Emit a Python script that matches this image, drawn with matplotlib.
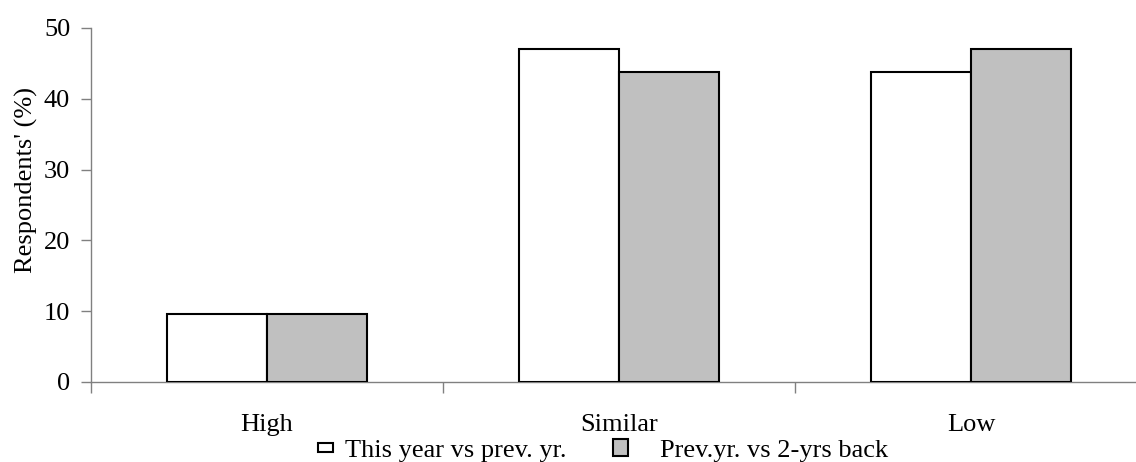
import matplotlib
matplotlib.use("Agg")
import matplotlib.pyplot as plt
import numpy as np

categories = ["High", "Similar", "Low"]
series_names = ["This year vs prev. yr.", "Prev.yr. vs 2-yrs back"]
this_year = [9.6, 47.0, 43.8]
prev_year = [9.6, 43.8, 47.0]
yticks = [0, 10, 20, 30, 40, 50]

plt.rcParams['font.family'] = ['Liberation Serif', 'DejaVu Serif']
FS = 19

fig = plt.figure(figsize=(11.36, 4.62), dpi=100)
W, H = 1136, 462
ax = fig.add_axes([91 / W, 1 - 382 / H, 1056 / W, 354 / H])

x = np.arange(len(categories))
bw = 0.284
b1 = ax.bar(x - bw / 2, this_year, bw, color="white", edgecolor="black",
            linewidth=1.5, label=series_names[0], zorder=3)
b2 = ax.bar(x + bw / 2, prev_year, bw, color="#C0C0C0", edgecolor="black",
            linewidth=1.5, label=series_names[1], zorder=3)

ax.set_xlim(-0.5, 2.5)
ax.set_ylim(0, 50)
ax.set_yticks(yticks)
ax.tick_params(axis='y', direction='out', length=7, width=1, color='#808080',
               labelsize=FS, pad=8)
ax.set_xticks([-0.5, 0.5, 1.5, 2.5])
ax.set_xticklabels([])
ax.set_xticks(x, minor=True)
ax.set_xticklabels(categories, minor=True)
ax.tick_params(axis='x', which='major', direction='out', length=8, width=1,
               color='#808080')
ax.tick_params(axis='x', which='minor', length=0, labelsize=FS, pad=23)
for s in ['top', 'right']:
    ax.spines[s].set_visible(False)
for s in ['left', 'bottom']:
    ax.spines[s].set_color('#808080')
    ax.spines[s].set_linewidth(1)

ax.set_ylabel("Respondents' (%)", fontsize=FS)
ax.yaxis.set_label_coords(-0.050, 0.57)

leg1 = fig.legend(handles=[b1], labels=[series_names[0]], loc='lower left',
                  bbox_to_anchor=(318 / W, 0.0), frameon=False, fontsize=FS,
                  handlelength=0.57, handleheight=0.15, handletextpad=0.45,
                  borderaxespad=0, borderpad=0.0)
leg2 = fig.legend(handles=[b2], labels=[series_names[1]], loc='lower left',
                  bbox_to_anchor=(613 / W, 0.0), frameon=False, fontsize=FS,
                  handlelength=0.57, handleheight=0.6, handletextpad=1.2,
                  borderaxespad=0, borderpad=0.0)

fig.savefig("out.png", dpi=100)
